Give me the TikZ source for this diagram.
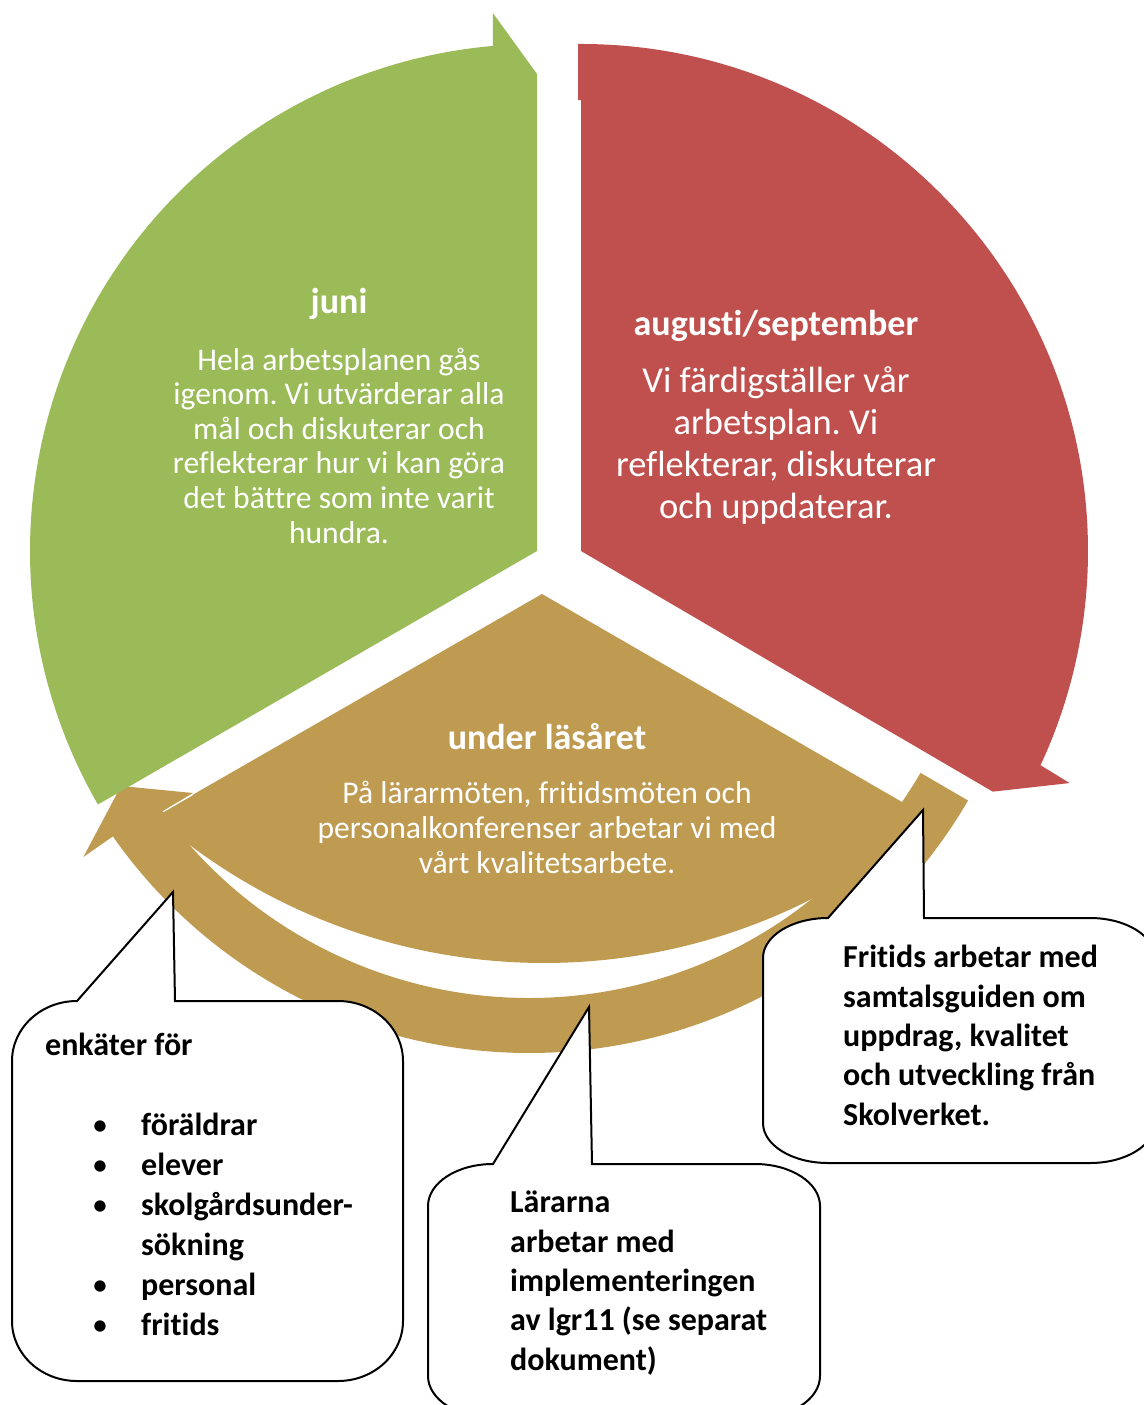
\documentclass[tikz,border=0pt]{standalone}
\usepackage{fontspec}
\setmainfont{Carlito}[Ligatures=CommonOff]
\usetikzlibrary{calc}
\frenchspacing

\definecolor{verde}{HTML}{9BBB59}
\definecolor{vermelho}{HTML}{C0504D}
\definecolor{dourado}{HTML}{BF9B52}

\begin{document}
\begin{tikzpicture}[x=1pt, y=-1pt,
        titulo/.style={anchor=base, inner sep=0pt, text=white, font=\fontsize{36}{42}\selectfont\bfseries},
        corpo/.style={anchor=base, inner sep=0pt, text=white, align=center},
        balao/.style={draw=black, line width=2pt, fill=white},
        textobalao/.style={anchor=base west, inner sep=0pt, align=left, font=\fontsize{32}{39.3}\selectfont\bfseries}]

        \useasboundingbox (0,0) rectangle (1143,1405);

        % centros dos setores
        \coordinate (C) at (529,545);
        \coordinate (V) at (542,594);
        \coordinate (G) at (537,551);
        \coordinate (R) at (581,551);
        \coordinate (P) at (544,372);

        % seta de baixo (faixa + setor)
        \fill[dourado] ($(C)+(30.2:508)$) arc[start angle=30.2, end angle=145, radius=508]
            -- ($(C)+(145:544)$) -- (121,786) -- (193,793) -- ($(C)+(144:453)$)
            arc[start angle=144, end angle=30.2, radius=453] -- cycle;
        \fill[dourado] (V) -- ($(P)+(49.1:591)$) arc[start angle=49.1, end angle=131.2, radius=591] -- cycle;
        \draw[white, line width=1pt] (193,794.5) -- (163,811.8);

        % setor verde
        \fill[verde] (G) -- ($(G)+(150:507)$) arc[start angle=150, end angle=265, radius=507]
            -- ($(G)+(265.3:540)$) -- ($(G)+(270:477)$) -- cycle;

        % setor vermelho
        \fill[vermelho] (R) -- (581,100) -- (578,100) -- (578,44)
            arc[start angle=269.66, end angle=385, radius=507]
            -- ($(R)+(25.4:541)$) -- ($(R)+(30.3:477)$) -- cycle;

        % textos dos setores (base = ultima linha)
        \node[titulo] (juni) at (339,313) {juni};
        \node[corpo, font=\fontsize{31.6}{34.6}\selectfont] (juniTxt) at (339,543)
            {Hela arbetsplanen gås\\igenom. Vi utvärderar alla\\mål och diskuterar och\\reflekterar hur vi kan göra\\det bättre som inte varit\\hundra.};
        \node[titulo] (aug) at (776,335) {augusti/september};
        \node[corpo, font=\fontsize{36.5}{41.7}\selectfont] (augTxt) at (776,518)
            {Vi färdigställer vår\\arbetsplan. Vi\\reflekterar, diskuterar\\och uppdaterar.};
        \node[titulo] (lasar) at (547,749) {under läsåret};
        \node[corpo, font=\fontsize{31.6}{35}\selectfont] (lasarTxt) at (547,873)
            {På lärarmöten, fritidsmöten och\\personalkonferenser arbetar vi med\\vårt kvalitetsarbete.};

        % balões
        \draw[balao] (12,1061) arc[start angle=180, end angle=270, x radius=65, y radius=60]
            -- (173,892) -- (175,1001) -- (338,1001)
            arc[start angle=270, end angle=360, x radius=65, y radius=60] -- (403,1321)
            arc[start angle=0, end angle=90, x radius=65, y radius=60] -- (77,1381)
            arc[start angle=90, end angle=180, x radius=65, y radius=60] -- cycle;
        \draw[balao] (428,1206) arc[start angle=180, end angle=270, x radius=65, y radius=42]
            -- (589,1007) -- (592,1164) -- (755,1164)
            arc[start angle=270, end angle=360, x radius=65, y radius=42] -- (820,1376)
            arc[start angle=0, end angle=90, x radius=65, y radius=42] -- (493,1418)
            arc[start angle=90, end angle=180, x radius=65, y radius=42] -- cycle;
        \draw[balao] (763,958) arc[start angle=180, end angle=270, x radius=65, y radius=40]
            -- (923,810) -- (924,918) -- (1090,918)
            arc[start angle=270, end angle=360, x radius=65, y radius=40] -- (1155,1123)
            arc[start angle=0, end angle=90, x radius=65, y radius=40] -- (828,1163)
            arc[start angle=90, end angle=180, x radius=65, y radius=40] -- cycle;

        % textos dos balões
        \node[textobalao] (enkat) at (45,1055) {enkäter för};
        \node[textobalao, font=\fontsize{32}{40}\selectfont\bfseries] (lista) at (141,1335)
            {föräldrar\\elever\\skolgårdsunder-\\sökning\\personal\\fritids};
        \foreach \y in {1135,1175,1215,1295,1335}
            \node[anchor=base, inner sep=0pt, font=\fontsize{32}{40}\selectfont] (b\y) at (100,\y) {\textbullet};
        \node[textobalao] (lararna) at (510,1370)
            {Lärarna\\arbetar med\\implementeringen\\av lgr11 (se separat\\dokument)};
        \node[textobalao] (fritids) at (843,1125)
            {Fritids arbetar med\\samtalsguiden om\\uppdrag, kvalitet\\och utveckling från\\Skolverket.};

\end{tikzpicture}
\end{document}
